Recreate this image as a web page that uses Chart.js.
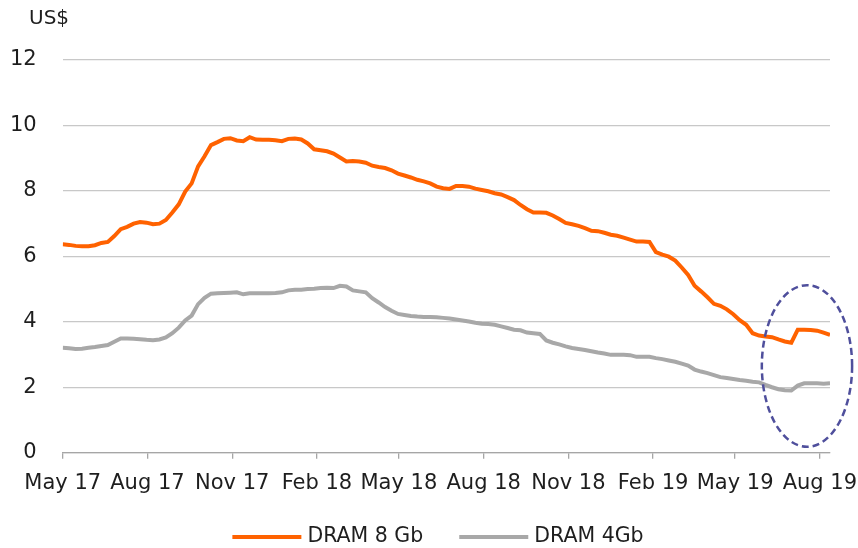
<!DOCTYPE html>
<html>
<head>
<meta charset="utf-8">
<script src="https://cdn.jsdelivr.net/npm/chart.js@4.4.1/dist/chart.umd.min.js"></script>
<style>
  html, body { margin: 0; padding: 0; background: #fff; }
  #wrap { width: 858px; height: 548px; position: relative; }
</style>
</head>
<body>
<div id="wrap"><canvas id="chart-dram"></canvas></div>
<script>
// ── Data: weekly DRAM contract prices (US$) ─────────────────────
const weeks = [
  '2017-05-01','2017-05-08','2017-05-15','2017-05-22','2017-05-29','2017-06-05','2017-06-12','2017-06-19','2017-06-26',
  '2017-07-03','2017-07-10','2017-07-17','2017-07-24','2017-07-31','2017-08-07','2017-08-14','2017-08-21','2017-08-28',
  '2017-09-04','2017-09-11','2017-09-18','2017-09-25','2017-10-02','2017-10-09','2017-10-16','2017-10-23','2017-10-30',
  '2017-11-06','2017-11-13','2017-11-20','2017-11-27','2017-12-04','2017-12-11','2017-12-18','2017-12-25',
  '2018-01-01','2018-01-08','2018-01-15','2018-01-22','2018-01-29','2018-02-05','2018-02-12','2018-02-19','2018-02-26',
  '2018-03-05','2018-03-12','2018-03-19','2018-03-26','2018-04-02','2018-04-09','2018-04-16','2018-04-23','2018-04-30',
  '2018-05-07','2018-05-14','2018-05-21','2018-05-28','2018-06-04','2018-06-11','2018-06-18','2018-06-25','2018-07-02',
  '2018-07-09','2018-07-16','2018-07-23','2018-07-30','2018-08-06','2018-08-13','2018-08-20','2018-08-27','2018-09-03',
  '2018-09-10','2018-09-17','2018-09-24','2018-10-01','2018-10-08','2018-10-15','2018-10-22','2018-10-29','2018-11-05',
  '2018-11-12','2018-11-19','2018-11-26','2018-12-03','2018-12-10','2018-12-17','2018-12-24','2018-12-31',
  '2019-01-07','2019-01-14','2019-01-21','2019-01-28','2019-02-04','2019-02-11','2019-02-18','2019-02-25','2019-03-04',
  '2019-03-11','2019-03-18','2019-03-25','2019-04-01','2019-04-08','2019-04-15','2019-04-22','2019-04-29','2019-05-06',
  '2019-05-13','2019-05-20','2019-05-27','2019-06-03','2019-06-10','2019-06-17','2019-06-24','2019-07-01','2019-07-08',
  '2019-07-15','2019-07-22','2019-07-29','2019-08-05','2019-08-12'
];

const dram8Gb = [
  6.37, 6.35, 6.32, 6.31, 6.31, 6.34, 6.41, 6.44, 6.62, 6.83, 6.90, 7.00, 7.05, 7.03, 6.98, 7.00, 7.11, 7.34, 7.59, 7.98,
  8.23, 8.75, 9.06, 9.40, 9.49, 9.59, 9.61, 9.54, 9.52, 9.64, 9.57, 9.56, 9.56, 9.55, 9.52, 9.59, 9.60, 9.57, 9.45, 9.27,
  9.24, 9.21, 9.14, 9.02, 8.90, 8.91, 8.90, 8.86, 8.77, 8.73, 8.70, 8.63, 8.53, 8.47, 8.41, 8.34, 8.29, 8.23, 8.13, 8.08,
  8.06, 8.15, 8.15, 8.13, 8.07, 8.03, 7.99, 7.93, 7.89, 7.81, 7.72, 7.57, 7.44, 7.34, 7.34, 7.33, 7.25, 7.14, 7.02, 6.98,
  6.93, 6.86, 6.78, 6.77, 6.72, 6.66, 6.63, 6.57, 6.51, 6.45, 6.45, 6.44, 6.13, 6.05, 5.99, 5.87, 5.66, 5.43, 5.10, 4.93,
  4.75, 4.55, 4.49, 4.38, 4.23, 4.05, 3.91, 3.65, 3.58, 3.55, 3.53, 3.46, 3.40, 3.36, 3.76, 3.76, 3.75, 3.73, 3.67, 3.60
];

const dram4Gb = [
  3.21, 3.19, 3.17, 3.18, 3.21, 3.23, 3.26, 3.29, 3.39, 3.49, 3.49, 3.48, 3.47, 3.45, 3.44, 3.46, 3.52, 3.65, 3.82, 4.04,
  4.19, 4.54, 4.73, 4.86, 4.87, 4.88, 4.89, 4.90, 4.84, 4.87, 4.87, 4.87, 4.87, 4.88, 4.90, 4.96, 4.98, 4.98, 5.00, 5.01,
  5.03, 5.04, 5.03, 5.10, 5.08, 4.96, 4.93, 4.90, 4.72, 4.59, 4.45, 4.34, 4.24, 4.21, 4.18, 4.16, 4.15, 4.15, 4.14, 4.12,
  4.10, 4.07, 4.04, 4.01, 3.97, 3.94, 3.93, 3.91, 3.86, 3.81, 3.76, 3.74, 3.67, 3.65, 3.63, 3.43, 3.36, 3.31, 3.25, 3.20,
  3.17, 3.14, 3.10, 3.06, 3.03, 2.99, 2.99, 2.99, 2.98, 2.93, 2.93, 2.93, 2.89, 2.86, 2.82, 2.78, 2.72, 2.66, 2.54, 2.48,
  2.43, 2.37, 2.31, 2.28, 2.25, 2.22, 2.20, 2.17, 2.15, 2.07, 2.00, 1.94, 1.91, 1.90, 2.05, 2.12, 2.12, 2.12, 2.11, 2.12
];

// axis ticks (quarter starts)
const tickDates  = ['2017-05-01','2017-08-01','2017-11-01','2018-02-01','2018-05-01',
                    '2018-08-01','2018-11-01','2019-02-01','2019-05-01','2019-08-01'];
const tickLabels = ['May 17','Aug 17','Nov 17','Feb 18','May 18',
                    'Aug 18','Nov 18','Feb 19','May 19','Aug 19'];
const yTicks = [0, 2, 4, 6, 8, 10, 12];

// dashed ring round the latest readings
const ringDate  = '2019-07-18';
const ringValue = 2.65;
const ringDays  = 49;    // half width, in days
const ringSpan  = 2.47;  // half height, in US$

// ── Helpers ─────────────────────────────────────────────────────
const DAY = 86400000;
const t0 = Date.parse(weeks[0]);
const toDay = d => Math.round((Date.parse(d) - t0) / DAY);
const tickDays = tickDates.map(toDay);

const ORANGE = '#ff6200';
const GREY   = '#a8a8a8';
const TEXT   = '#1e1e1e';
const FONT   = "'DejaVu Sans', sans-serif";

const series = (vals) => weeks.map((w, i) => ({ x: toDay(w), y: vals[i] }));

// "US$" caption, dashed ring, legend row
const extras = {
    id: 'extras',
    afterDraw(chart) {
        const { ctx, scales: { x, y } } = chart;
        ctx.save();
        ctx.fillStyle = TEXT;
        ctx.font = `20px ${FONT}`;
        ctx.textBaseline = 'middle';
        ctx.textAlign = 'left';
        ctx.fillText('US$', 29, 19);

        // ring
        const cx = x.getPixelForValue(toDay(ringDate));
        const cy = y.getPixelForValue(ringValue);
        const rx = x.getPixelForValue(toDay(ringDate) + ringDays) - cx;
        const ry = cy - y.getPixelForValue(ringValue + ringSpan);
        ctx.strokeStyle = '#4f4f9c';
        ctx.lineWidth = 2.5;
        ctx.setLineDash([7, 4]);
        ctx.beginPath();
        ctx.ellipse(cx, cy, rx, ry, 0, 0, Math.PI * 2);
        ctx.stroke();
        ctx.setLineDash([]);

        // legend
        const sw = 69, gap = 6, between = 36, ly = 537;
        ctx.font = `20.5px ${FONT}`;
        const items = chart.data.datasets.map(ds => ({ ds, w: ctx.measureText(ds.label).width }));
        const total = items.reduce((s, it) => s + sw + gap + it.w, 0) + between * (items.length - 1);
        let lx = 438 - total / 2;
        items.forEach(({ ds, w }) => {
            ctx.strokeStyle = ds.borderColor;
            ctx.lineWidth = 4;
            ctx.beginPath();
            ctx.moveTo(lx, ly);
            ctx.lineTo(lx + sw, ly);
            ctx.stroke();
            ctx.fillText(ds.label, lx + sw + gap, ly);
            lx += sw + gap + w + between;
        });
        ctx.restore();
    }
};

new Chart(document.getElementById('chart-dram'), {
    type: 'line',
    data: {
        datasets: [
            {
                label: 'DRAM 8 Gb',
                data: series(dram8Gb),
                borderColor: ORANGE,
                borderWidth: 4,
                pointRadius: 0,
                tension: 0,
                fill: false,
            },
            {
                label: 'DRAM 4Gb',
                data: series(dram4Gb),
                borderColor: GREY,
                borderWidth: 4,
                pointRadius: 0,
                tension: 0,
                fill: false,
            }
        ]
    },
    options: {
        responsive: true,
        maintainAspectRatio: false,
        animation: false,
        layout: { padding: { top: 60, right: 28, bottom: 0, left: 0 } },
        plugins: {
            tooltip: { enabled: false },
            legend: { display: false }
        },
        scales: {
            x: {
                type: 'linear',
                min: 0,
                max: toDay(weeks[weeks.length - 1]),
                afterBuildTicks: (scale) => { scale.ticks = tickDays.map(v => ({ value: v })); },
                afterFit: (scale) => {
                    scale.height = 95.3;
                    scale.paddingLeft = 0;
                    scale.paddingRight = 0;
                },
                ticks: {
                    autoSkip: false,
                    maxRotation: 0,
                    padding: 14.5,
                    color: TEXT,
                    font: { family: FONT, size: 21, lineHeight: 1 },
                    callback: (v) => tickLabels[tickDays.indexOf(v)] ?? ''
                },
                grid: { drawOnChartArea: false, drawTicks: true, tickLength: 6, color: '#a6a6a6', lineWidth: 1.3 },
                border: { display: true, color: '#a6a6a6', width: 1.3 }
            },
            y: {
                min: 0,
                max: 12,
                afterBuildTicks: (scale) => { scale.ticks = yTicks.map(v => ({ value: v })); },
                afterFit: (scale) => { scale.width = 62.7; },
                ticks: {
                    padding: 26,
                    color: TEXT,
                    font: { family: FONT, size: 21 }
                },
                grid: { drawTicks: false, color: '#c8c8c8', lineWidth: 1.3 },
                border: { display: false }
            }
        }
    },
    plugins: [extras]
});
</script>
</body>
</html>
